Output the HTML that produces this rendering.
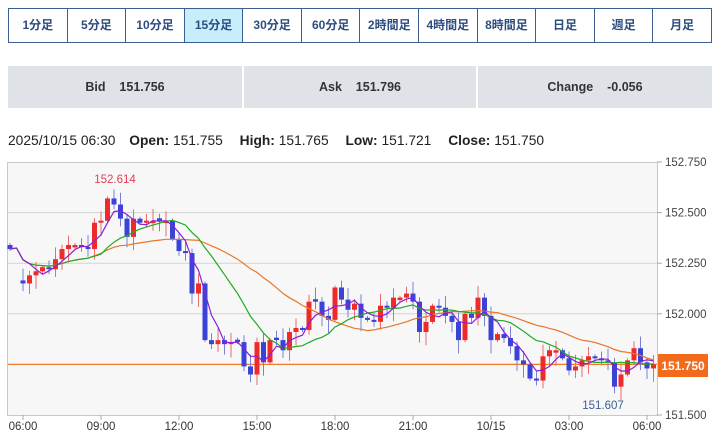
<!DOCTYPE html>
<html><head><meta charset="utf-8"><style>
body{margin:0;width:720px;height:439px;background:#fff;font-family:"Liberation Sans","Noto Sans CJK JP",sans-serif;overflow:hidden;position:relative}
.tabs{position:absolute;left:8px;top:8px;width:704px;height:35px;display:flex;border:1px solid #3d5f8f;box-sizing:border-box}
.tabs div{flex:1;border-left:1px solid #3d5f8f;text-align:center;line-height:33px;font-size:12px;font-weight:bold;color:#2d4d80}
.tabs div:first-child{border-left:none}
.tabs .on{background:#c6eefb}
.info{position:absolute;top:66px;height:42px;background:#dfe3e8;text-align:center;line-height:42px;font-size:12.5px;font-weight:bold;color:#333}
.ohlc{position:absolute;left:8px;top:133px;font-size:13.8px;color:#222;white-space:nowrap}
.ohlc b{margin-left:13px}
</style></head><body>
<div class="tabs"><div>1分足</div><div>5分足</div><div>10分足</div><div class="on">15分足</div><div>30分足</div><div>60分足</div><div>2時間足</div><div>4時間足</div><div>8時間足</div><div>日足</div><div>週足</div><div>月足</div></div>
<div class="info" style="left:8px;width:234px">Bid&nbsp;&nbsp;&nbsp;&nbsp;151.756</div>
<div class="info" style="left:244px;width:232px">Ask&nbsp;&nbsp;&nbsp;&nbsp;151.796</div>
<div class="info" style="left:478px;width:234px">Change&nbsp;&nbsp;&nbsp;&nbsp;-0.056</div>
<div class="ohlc">2025/10/15 06:30 <b style="margin-left:10px">Open:</b> 151.755 <b>High:</b> 151.765 <b>Low:</b> 151.721 <b>Close:</b> 151.750</div>
<svg id="c" width="720" height="439" style="position:absolute;left:0;top:0" xmlns="http://www.w3.org/2000/svg"></svg>
<script>
var C=[152.32,152.33,152.15,152.19,152.21,152.23,152.22,152.27,152.32,152.34,152.34,152.33,152.32,152.45,152.46,152.57,152.54,152.47,152.38,152.47,152.45,152.46,152.46,152.46,152.46,152.37,152.31,152.30,152.10,152.15,151.87,151.85,151.87,151.85,151.86,151.86,151.74,151.70,151.86,151.76,151.87,151.87,151.82,151.91,151.93,151.92,152.06,152.06,151.99,151.97,152.13,152.07,152.02,152.05,151.98,151.97,151.96,152.04,152.03,152.08,152.08,152.10,152.06,151.91,151.96,152.04,152.03,151.99,151.96,151.87,152.00,151.98,152.08,151.99,151.87,151.90,151.88,151.84,151.77,151.75,151.68,151.67,151.79,151.82,151.82,151.78,151.72,151.74,151.77,151.79,151.78,151.77,151.76,151.64,151.70,151.77,151.83,151.76,151.73,151.75];
function Y(p){return 162+(152.75-p)*202.4}
function X(i){return 10+6.5*i}
var s='<rect x="7.5" y="162.5" width="650" height="253" fill="#f7f7f7" stroke="#c8c8c8"/>';
[152.5,152.25,152.0].forEach(function(p){s+='<line x1="8" x2="657" y1="'+Y(p)+'" y2="'+Y(p)+'" stroke="#d4d4d4" stroke-width="1"/>'});
var ticks=[["06:00",2],["09:00",14],["12:00",26],["15:00",38],["18:00",50],["21:00",62],["10/15",74],["03:00",86],["06:00",98]];
ticks.forEach(function(t){var x=X(t[1]);s+='<line x1="'+x+'" x2="'+x+'" y1="415" y2="420" stroke="#aaa"/><text x="'+x+'" y="430" font-size="11.5" fill="#333" text-anchor="middle">'+t[0]+'</text>'});
[[152.75,"152.750"],[152.5,"152.500"],[152.25,"152.250"],[152.0,"152.000"],[151.5,"151.500"]].forEach(function(t){s+='<line x1="657" x2="662" y1="'+Y(t[0])+'" y2="'+Y(t[0])+'" stroke="#aaa"/><text x="665" y="'+(Y(t[0])+4)+'" font-size="11.5" fill="#444">'+t[1]+'</text>'});
s+='<line x1="8" x2="657" y1="'+Y(151.75)+'" y2="'+Y(151.75)+'" stroke="#f07a2a" stroke-width="1.2"/>';
for(var i=0;i<C.length;i++){var o=i?C[i-1]:152.34,c=C[i];if(i==2)o=152.165;if(i==1)continue;if(Math.abs(o-c)<0.008)o=c+((i%2)?0.012:-0.012);
var up=c>o,col=up?'#ee2b2b':'#3b43d6',wc=up?'#ee6b6b':'#7a80d8';var hi=Math.max(o,c)+0.01+((i*7)%5)*0.012,lo=Math.min(o,c)-0.01-((i*11)%5)*0.014;
if(i==16)hi=152.614;if(i==93)lo=151.607;
var x=X(i);s+='<line x1="'+x+'" x2="'+x+'" y1="'+Y(hi)+'" y2="'+Y(lo)+'" stroke="'+wc+'" stroke-width="1"/>';
var t=Y(Math.max(o,c)),h=Math.max(2,Y(Math.min(o,c))-t);s+='<rect x="'+(x-2.5)+'" y="'+t+'" width="5" height="'+h+'" fill="'+col+'"/>';}
function ma(n,col){var pts=[];for(var i=0;i<C.length;i++){var a=0,k=0;for(var j=Math.max(0,i-n+1);j<=i;j++){a+=C[j];k++}pts.push(X(i)+','+Y(a/k).toFixed(1))}s+='<polyline points="'+pts.join(' ')+'" fill="none" stroke="'+col+'" stroke-width="1.2"/>'}
ma(26,'#e8772a');ma(13,'#22aa22');ma(4,'#8a1fd8');
s+='<text x="115" y="183" font-size="11.5" fill="#e0405a" text-anchor="middle">152.614</text>';
s+='<text x="603" y="409" font-size="11.5" fill="#3d5f8f" text-anchor="middle">151.607</text>';
s+='<rect x="658" y="354" width="50" height="23" fill="#f26a1b"/><text x="683" y="370" font-size="12" font-weight="bold" fill="#fff" text-anchor="middle">151.750</text>';
document.getElementById('c').innerHTML=s;
</script>
</body></html>
